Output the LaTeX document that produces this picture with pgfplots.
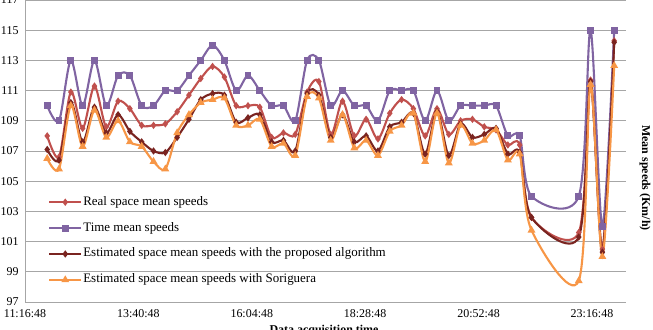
\documentclass[border=0pt]{standalone}
\usepackage{pgfplots}
\usepackage{pgfplotstable}
\pgfplotsset{compat=1.18}
\usepackage{fontspec}
\setmainfont{Liberation Serif}
\definecolor{cReal}{HTML}{C0504D}
\definecolor{cTime}{HTML}{8064A2}
\definecolor{cEst}{HTML}{7A2420}
\definecolor{cSor}{HTML}{F79646}
\definecolor{gridc}{HTML}{A6A6A6}
\pgfplotstableread{
h      time  real   est    sor
11.75  110   108.0  107.1  106.5
12.00  109   106.6  106.4  105.8
12.25  113   110.9  110.2  110.0
12.50  110   108.5  107.6  107.3
12.75  113   111.3  109.9  109.7
13.00  110   108.6  108.2  107.9
13.25  112   110.3  109.4  109.0
13.50  112   109.8  108.3  107.6
13.75  110   108.7  107.6  107.3
14.00  110   108.7  107.0  106.3
14.25  111   108.8  106.9  105.8
14.50  111   109.6  107.9  108.2
14.75  112   110.7  109.1  109.4
15.00  113   111.8  110.4  110.2
15.25  114   112.6  110.8  110.4
15.50  113   111.9  110.7  110.5
15.75  111   110.0  108.9  108.7
16.00  112   110.0  109.2  108.7
16.25  111   109.9  109.4  109.1
16.50  110   107.9  107.6  107.3
16.75  110   108.2  107.7  107.5
17.00  109   108.1  107.0  106.7
17.25  113   110.9  110.8  110.6
17.50  113   111.6  110.7  110.5
17.75  110   108.1  107.9  107.7
18.00  111   110.3  109.4  109.4
18.25  110   108.0  107.6  107.2
18.50  110   109.1  108.0  107.7
18.75  109   107.8  107.0  106.7
19.00  111   109.5  108.6  108.3
19.25  111   110.4  108.9  108.7
19.50  111   109.8  109.5  109.5
19.75  109   108.0  106.8  106.3
20.00  111   109.8  109.6  109.5
20.25  109   108.1  106.7  106.2
20.50  110   109.0  108.8  108.7
20.75  110   109.1  107.9  107.5
21.00  110   108.6  108.1  107.7
21.25  110   108.4  108.5  108.4
21.50  108   107.4  106.8  106.4
21.75  108   107.4  106.9  106.8
22.00  104   102.6  102.6  101.75
23.00  104   101.6  101.3  98.4
23.25  115   111.7  111.6  111.4
23.50  102   100.5  100.3  100.0
23.75  115   114.3  114.2  112.65
}\speeds
\begin{document}
\begin{tikzpicture}
\begin{axis}[
  scale only axis,
  width=601bp, height=302bp,
  xmin=11.28, xmax=24.0,
  ymin=97, ymax=117,
  ytick={97,99,...,117},
  xtick={11.28,13.68,16.08,18.48,20.88,23.28},
  xticklabels={11:16:48,13:40:48,16:04:48,18:28:48,20:52:48,23:16:48},
  axis x line*=bottom, axis y line*=left,
  axis line style={gridc, line width=0.8bp, -},
  ymajorgrids, grid style={gridc, line width=0.8bp},
  major tick length=0pt,
  tick label style={font=\fontsize{12}{14}\selectfont},
  /pgf/number format/assume math mode=true,
  yticklabel style={xshift=-3bp},
  xticklabel style={yshift=-4.5bp},
  every axis y label/.style={at={(rel axis cs:1.0316,0.4106)}, anchor=center, rotate=-90, font=\bfseries\fontsize{12}{14}\selectfont},
  every axis x label/.style={at={(rel axis cs:0.4975,-0.0775)}, anchor=north, inner sep=0pt, font=\bfseries\fontsize{12}{14}\selectfont},
  xlabel={Data acquisition time},
  ylabel={Mean speeds (Km/h)},
  legend style={at={(0.0383,0.351)}, anchor=north west, draw=none, fill=none, inner sep=0pt,
    font=\fontsize{13}{15}\selectfont, row sep=13.9bp, column sep=1bp,
    cells={anchor=west}, nodes={inner sep=0pt, text height=9bp, text depth=3bp}},
  legend image code/.code={\draw[mark repeat=2,mark phase=2,#1] plot coordinates {(0bp,0bp)(16bp,0bp)(32bp,0bp)};},
  every axis plot/.append style={smooth, line width=2.1bp},
]
\coordinate (axsw) at (rel axis cs:0,0);
\coordinate (axne) at (rel axis cs:1,1);
\addplot[color=cReal, mark=diamond*, mark size=2bp, mark options={solid}] table[x=h,y=real] {\speeds};
\addlegendentry{Real space mean speeds}
\addplot[color=cTime, mark=square*, mark size=2.4bp, mark options={solid}] table[x=h,y=time] {\speeds};
\addlegendentry{Time mean speeds}
\addplot[color=cEst, mark=diamond*, mark size=2bp, mark options={solid}] table[x=h,y=est] {\speeds};
\addlegendentry{Estimated space mean speeds with the proposed algorithm}
\addplot[color=cSor, mark=triangle*, mark size=2.5bp, mark options={solid}] table[x=h,y=sor] {\speeds};
\addlegendentry{Estimated space mean speeds with Soriguera}
\end{axis}
\pgfresetboundingbox
\useasboundingbox ([xshift=-25bp,yshift=-28bp]axsw) rectangle ([xshift=27bp]axne);
\end{tikzpicture}
\end{document}
